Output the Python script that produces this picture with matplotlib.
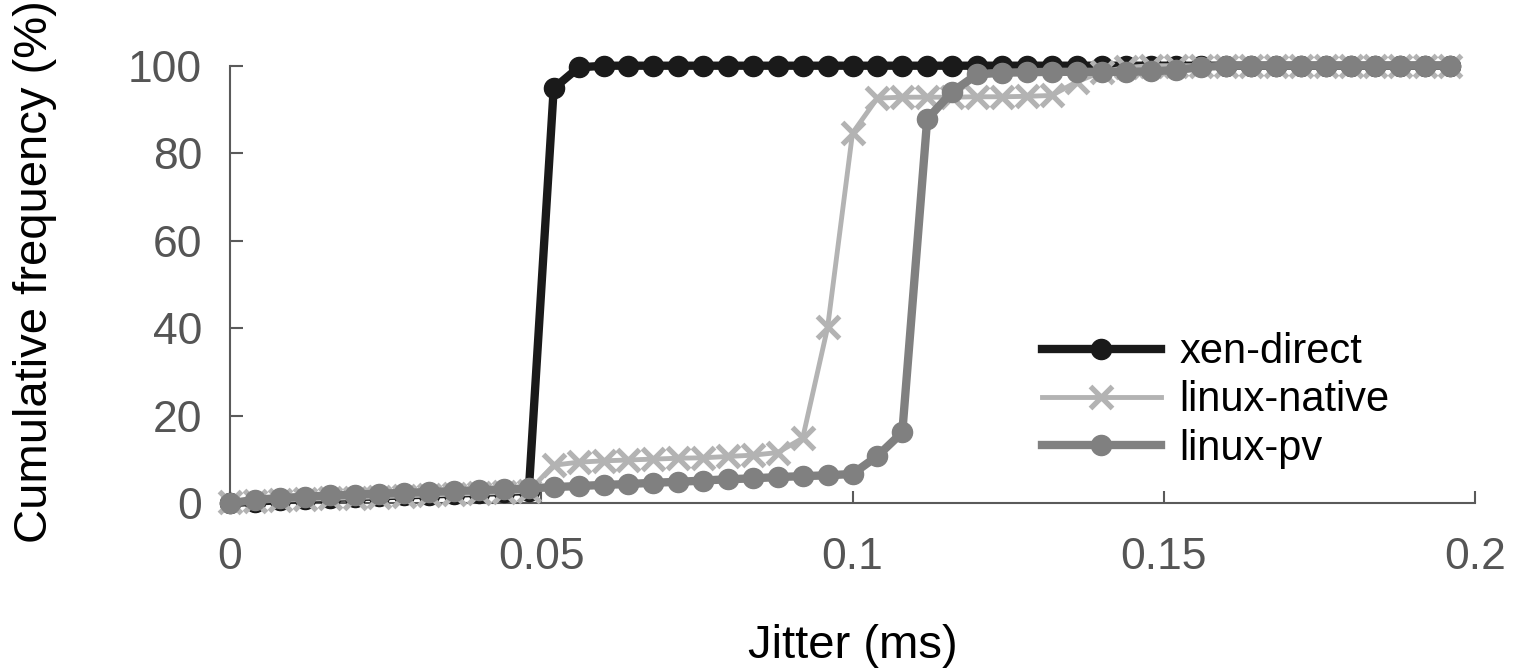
import matplotlib
matplotlib.use('Agg')
import matplotlib.pyplot as plt

plt.rcParams['font.family'] = ['Liberation Sans', 'DejaVu Sans']

# jitter bins (ms)
jitter = [0.000, 0.004, 0.008, 0.012, 0.016, 0.020, 0.024, 0.028, 0.032, 0.036,
          0.040, 0.044, 0.048, 0.052, 0.056, 0.060, 0.064, 0.068, 0.072, 0.076,
          0.080, 0.084, 0.088, 0.092, 0.096, 0.100, 0.104, 0.108, 0.112, 0.116,
          0.120, 0.124, 0.128, 0.132, 0.136, 0.140, 0.144, 0.148, 0.152, 0.156,
          0.160, 0.164, 0.168, 0.172, 0.176, 0.180, 0.184, 0.188, 0.192, 0.196]

# cumulative frequency (%)
xen_direct = [0.0, 0.4, 0.7, 1.0, 1.2, 1.4, 1.6, 1.8, 2.0, 2.2,
              2.4, 2.6, 2.8, 94.8, 99.6, 100, 100, 100, 100, 100,
              100, 100, 100, 100, 100, 100, 100, 100, 100, 100,
              100, 100, 100, 100, 100, 100, 100, 100, 100, 100,
              100, 100, 100, 100, 100, 100, 100, 100, 100, 100]

linux_native = [0.3, 0.5, 0.7, 0.9, 1.1, 1.3, 1.5, 1.7, 1.9, 2.1,
                2.3, 2.5, 2.8, 8.7, 9.4, 9.7, 9.9, 10.1, 10.3, 10.4,
                10.7, 11.0, 11.6, 14.9, 40.2, 84.6, 92.6, 92.8, 92.8, 92.8,
                92.9, 92.9, 93.0, 93.2, 96.3, 98.6, 99.6, 100, 100, 100,
                100, 100, 100, 100, 100, 100, 100, 100, 100, 100]

linux_pv = [0.0, 0.8, 1.2, 1.5, 1.8, 2.0, 2.2, 2.4, 2.6, 2.8,
            3.0, 3.2, 3.4, 3.7, 3.95, 4.2, 4.4, 4.7, 4.9, 5.2,
            5.5, 5.7, 6.0, 6.2, 6.4, 6.7, 10.8, 16.2, 87.8, 94.0,
            98.0, 98.4, 98.5, 98.6, 98.6, 98.6, 98.6, 98.7, 99.0, 99.7,
            100, 100, 100, 100, 100, 100, 100, 100, 100, 100]

xticks = [0, 0.05, 0.1, 0.15, 0.2]
xticklabels = ['0', '0.05', '0.1', '0.15', '0.2']
yticks = [0, 20, 40, 60, 80, 100]
yticklabels = ['0', '20', '40', '60', '80', '100']

fig = plt.figure(figsize=(15.4, 6.68), dpi=100)
ax = fig.add_axes([230/1540, 1-503.3/668, 1245/1540, 437.6/668])

ax.plot(jitter, xen_direct, '-o', color='#1a1a1a', lw=6, ms=14.5, mew=1,
        label='xen-direct', clip_on=False)
ax.plot(jitter, linux_native, '-x', color='#b3b3b3', lw=3.5, ms=16.5, mew=3.8,
        label='linux-native', clip_on=False)
ax.plot(jitter, linux_pv, '-o', color='#808080', lw=6, ms=14.5, mew=1,
        label='linux-pv', clip_on=False)

ax.set_xlim(0, 0.2)
ax.set_ylim(0, 100)
ax.set_xticks(xticks)
ax.set_xticklabels(xticklabels)
ax.set_yticks(yticks)
ax.set_yticklabels(yticklabels)

for s in ['top', 'right']:
    ax.spines[s].set_visible(False)
for s in ['left', 'bottom']:
    ax.spines[s].set_color('#5a5a5a')
    ax.spines[s].set_linewidth(1.5)
    ax.spines[s].set_zorder(1)

ax.tick_params(axis='both', direction='in', length=9, width=1.5,
               color='#5a5a5a', labelcolor='#555555', labelsize=32)
ax.tick_params(axis='x', pad=24)
ax.tick_params(axis='y', pad=20)

ax.set_xlabel('Jitter (ms)', fontsize=34)
ax.set_ylabel('Cumulative frequency (%)', fontsize=34)
ax.xaxis.set_label_coords(0.5, -0.276)
ax.yaxis.set_label_coords(-0.139, 0.53)

ax.legend(loc='center left', bbox_to_anchor=(0.652, 0.235), frameon=False,
          fontsize=30, handlelength=2.86, handletextpad=0.45,
          labelspacing=0.2, borderpad=0, borderaxespad=0)

fig.savefig('out.png', dpi=100)
